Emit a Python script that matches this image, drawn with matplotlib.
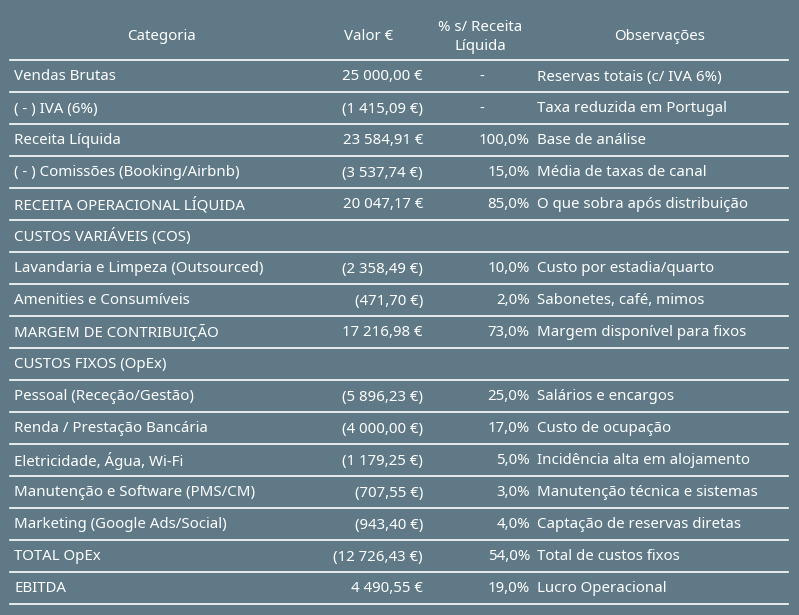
import matplotlib.pyplot as plt

categories = ["Vendas Brutas", "( - ) IVA (6%)", "Receita Líquida", "( - ) Comissões (Booking/Airbnb)",
              "RECEITA OPERACIONAL LÍQUIDA", "CUSTOS VARIÁVEIS (COS)", "Lavandaria e Limpeza (Outsourced)",
              "Amenities e Consumíveis", "MARGEM DE CONTRIBUIÇÃO", "CUSTOS FIXOS (OpEx)",
              "Pessoal (Receção/Gestão)", "Renda / Prestação Bancária", "Eletricidade, Água, Wi-Fi",
              "Manutenção e Software (PMS/CM)", "Marketing (Google Ads/Social)", "TOTAL OpEx", "EBITDA"]
values = ["25 000,00 €", "(1 415,09 €)", "23 584,91 €", "(3 537,74 €)", "20 047,17 €", "",
          "(2 358,49 €)", "(471,70 €)", "17 216,98 €", "", "(5 896,23 €)", "(4 000,00 €)",
          "(1 179,25 €)", "(707,55 €)", "(943,40 €)", "(12 726,43 €)", "4 490,55 €"]
percents = ["-", "-", "100,0%", "15,0%", "85,0%", "", "10,0%", "2,0%", "73,0%", "", "25,0%",
            "17,0%", "5,0%", "3,0%", "4,0%", "54,0%", "19,0%"]
notes = ["Reservas totais (c/ IVA 6%)", "Taxa reduzida em Portugal", "Base de análise",
         "Média de taxas de canal", "O que sobra após distribuição", "", "Custo por estadia/quarto",
         "Sabonetes, café, mimos", "Margem disponível para fixos", "", "Salários e encargos",
         "Custo de ocupação", "Incidência alta em alojamento", "Manutenção técnica e sistemas",
         "Captação de reservas diretas", "Total de custos fixos", "Lucro Operacional"]
# bold flags: (category, value, percent)
bold = {0: (1, 0, 0), 2: (1, 1, 1), 4: (1, 1, 1), 5: (1, 0, 0), 8: (1, 1, 0),
        9: (1, 0, 0), 15: (1, 0, 1), 16: (1, 1, 1)}

bg = "#5f7986"
W, H = 799, 615
fig = plt.figure(figsize=(W / 100, H / 100), dpi=100, facecolor=bg)
ax = fig.add_axes([0, 0, 1, 1])
ax.set_xlim(0, W)
ax.set_ylim(H, 0)
ax.axis("off")
ax.set_facecolor(bg)

font = "Noto Sans"
fs = 10.8
hdr = dict(color="white", fontsize=fs, fontweight="bold", family=font, va="center", ha="center")
ax.text(161, 37, "Categoria", **hdr)
ax.text(369, 37, "Valor €", **hdr)
ax.text(480, 37, "% s/ Receita\nLíquida", linespacing=1.35, **hdr)
ax.text(660, 37, "Observações", **hdr)

ax.plot([10, 788], [60, 60], color="white", lw=1.2)
for i in range(len(categories)):
    y = 77 + 32 * i
    b = bold.get(i, (0, 0, 0))
    kw = dict(color="white", fontsize=fs, family=font, va="center")
    ax.text(14, y, categories[i], ha="left", fontweight="bold" if b[0] else "normal", **kw)
    ax.text(423, y, values[i], ha="right", fontweight="bold" if b[1] else "normal", **kw)
    if percents[i] == "-":
        ax.text(482, y, "-", ha="center", **kw)
    else:
        ax.text(530, y, percents[i], ha="right", fontweight="bold" if b[2] else "normal", **kw)
    ax.text(537, y, notes[i], ha="left", **kw)
    ax.plot([10, 788], [92 + 32 * i, 92 + 32 * i], color="white", lw=1.2)

fig.savefig("out.png", dpi=100, facecolor=bg)
